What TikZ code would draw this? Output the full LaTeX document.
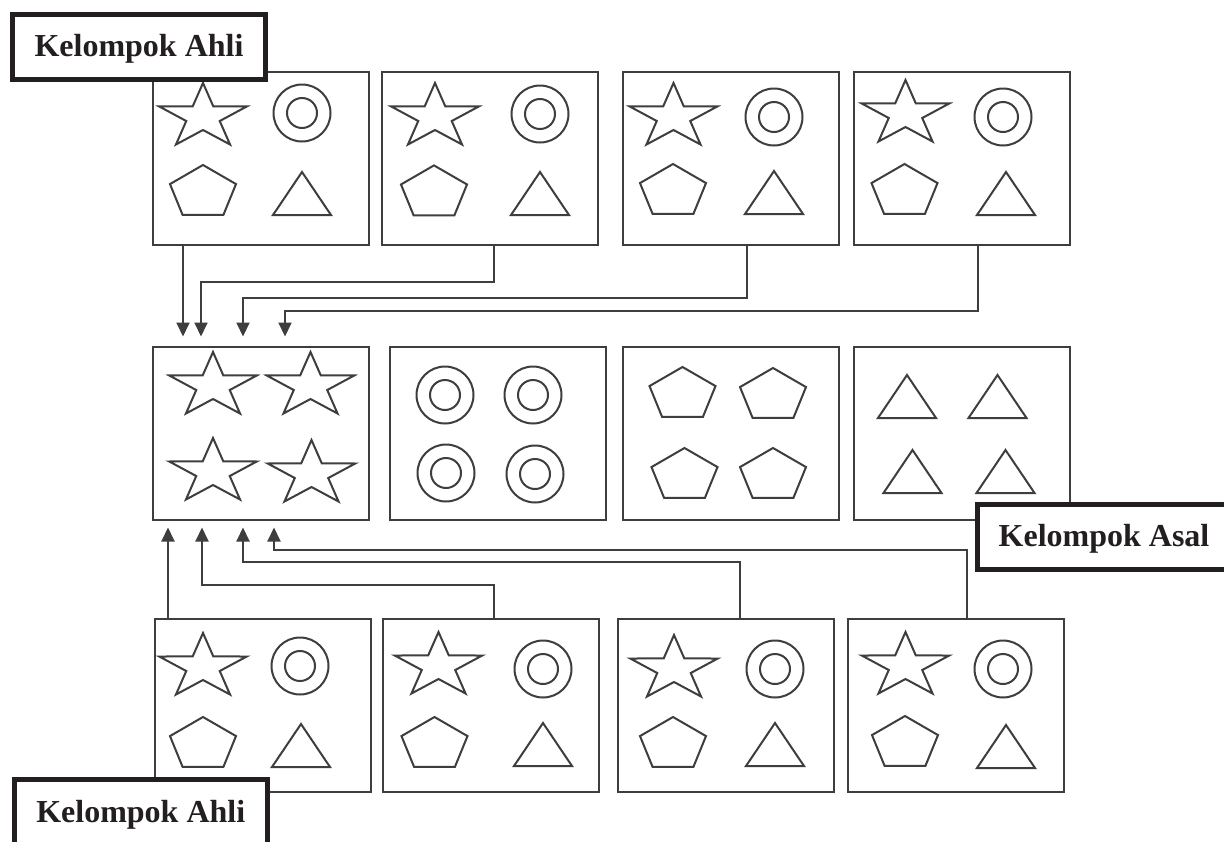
\documentclass[tikz,border=0pt]{standalone}
\usepackage{fontspec}
\setmainfont{Liberation Serif}
\usetikzlibrary{arrows.meta}
\definecolor{ln}{RGB}{62,62,62}
\definecolor{lb}{RGB}{35,31,32}
\tikzset{
  x=1pt, y=-1pt,
  box/.style={draw=ln, line width=2pt, minimum width=216pt, minimum height=173pt, inner sep=0pt, outer sep=0pt},
  shp/.style={draw=ln, line width=2pt, line join=miter},
  lab/.style={draw=lb, fill=white, line width=5pt, minimum width=253pt, minimum height=65pt, inner sep=0pt, outer sep=0pt,
    font=\fontsize{32}{36}\selectfont\bfseries, text=lb, text height=26pt, text depth=6pt},
  arr/.style={draw=ln, line width=2pt, -{Triangle[length=14pt,width=13pt]}},
  starp/.pic={\draw[shp] (90:46pt and 34pt) -- (126:17.6pt and 13pt) -- (162:46pt and 34pt) -- (198:17.6pt and 13pt)
     -- (234:46pt and 34pt) -- (270:17.6pt and 13pt) -- (306:46pt and 34pt) -- (342:17.6pt and 13pt)
     -- (18:46pt and 34pt) -- (54:17.6pt and 13pt) -- cycle;},
  pentp/.pic={\draw[shp] (90:34.7pt and 27.6pt) -- (162:34.7pt and 27.6pt) -- (234:34.7pt and 27.6pt)
     -- (306:34.7pt and 27.6pt) -- (18:34.7pt and 27.6pt) -- cycle;},
  trip/.pic={\draw[shp] (0,0) -- (-29,43) -- (29,43) -- cycle;},
  ringp/.pic={\draw[shp] (0,0) circle[radius=28.5pt]; \draw[shp] (0,0) circle[radius=15pt];}
}
\begin{document}
\begin{tikzpicture}
\useasboundingbox (0,0) rectangle (1224,841);
\fill[white] (0,0) rectangle (1224,841);
% top row
\node[box] (T1) at (260.5,158.5) {};
\node[box] (T2) at (489.5,158.5) {};
\node[box] (T3) at (730.5,158.5) {};
\node[box] (T4) at (961.5,158.5) {};
% middle row
\node[box] (M1) at (261,433) {};
\node[box] (M2) at (497.5,433) {};
\node[box] (M3) at (730.5,433) {};
\node[box] (M4) at (961.5,433) {};
% bottom row
\node[box] (B1) at (262.5,705) {};
\node[box] (B2) at (490.5,705) {};
\node[box] (B3) at (725.5,705) {};
\node[box] (B4) at (956,705) {};
% shapes top row
\pic at (203,117) {starp};   \pic at (302,113) {ringp}; \pic at (203,192.6) {pentp}; \pic at (302,172) {trip};
\pic at (435,117) {starp};   \pic at (540,114) {ringp}; \pic at (434,193) {pentp};   \pic at (540,172) {trip};
\pic at (673.5,117) {starp}; \pic at (774,117) {ringp}; \pic at (673,191.6) {pentp}; \pic at (774,171) {trip};
\pic at (905.5,114) {starp}; \pic at (1003,117) {ringp}; \pic at (904.5,191.6) {pentp}; \pic at (1006,172) {trip};
% middle row
\pic at (213,386) {starp}; \pic at (310.5,386) {starp}; \pic at (213,472) {starp}; \pic at (311.5,474) {starp};
\pic at (445,395) {ringp}; \pic at (533,395) {ringp}; \pic at (446,473) {ringp}; \pic at (535,474) {ringp};
\pic at (682.5,394.6) {pentp}; \pic at (773,395.6) {pentp}; \pic at (684.5,475.6) {pentp}; \pic at (773,475.6) {pentp};
\pic at (907,375) {trip}; \pic at (997.5,375) {trip}; \pic at (912.5,450) {trip}; \pic at (1005.5,450) {trip};
% bottom row
\pic at (203,667) {starp};   \pic at (300,666) {ringp}; \pic at (203,744.6) {pentp};   \pic at (301,724) {trip};
\pic at (438.5,666) {starp}; \pic at (543,669) {ringp}; \pic at (434.5,744.6) {pentp}; \pic at (543,723) {trip};
\pic at (674,669) {starp};   \pic at (775,669) {ringp}; \pic at (673,744.6) {pentp};   \pic at (775,723) {trip};
\pic at (905.5,666) {starp}; \pic at (1003,669) {ringp}; \pic at (905,743.6) {pentp}; \pic at (1006,725) {trip};
% arrows from top row
\draw[arr] ([xshift=30.5pt]T1.south west) -- ([xshift=30pt,yshift=10pt]M1.north west);
\draw[arr] ([xshift=112.5pt]T2.south west) -- ++(0,37) -| ([xshift=48pt,yshift=10pt]M1.north west);
\draw[arr] ([xshift=124.5pt]T3.south west) -- ++(0,53) -| ([xshift=90pt,yshift=10pt]M1.north west);
\draw[arr] ([xshift=124.5pt]T4.south west) -- ++(0,66) -| ([xshift=132pt,yshift=10pt]M1.north west);
% arrows from bottom row
\draw[arr] ([xshift=13.5pt]B1.north west) -- ([xshift=15pt,yshift=-8pt]M1.south west);
\draw[arr] ([xshift=111.5pt]B2.north west) -- ++(0,-33.5) -| ([xshift=49pt,yshift=-8pt]M1.south west);
\draw[arr] ([xshift=122.5pt]B3.north west) -- ++(0,-56.5) -| ([xshift=90pt,yshift=-8pt]M1.south west);
\draw[arr] ([xshift=119pt]B4.north west) -- ++(0,-68.5) -| ([xshift=121pt,yshift=-8pt]M1.south west);
% labels
\node[lab] (L1) at (139,46.5) {Kelompok Ahli};
\node[lab] (L2) at (1104,536.5) {Kelompok Asal};
\node[lab] (L3) at (140.75,812) {Kelompok Ahli};
\end{tikzpicture}
\end{document}
